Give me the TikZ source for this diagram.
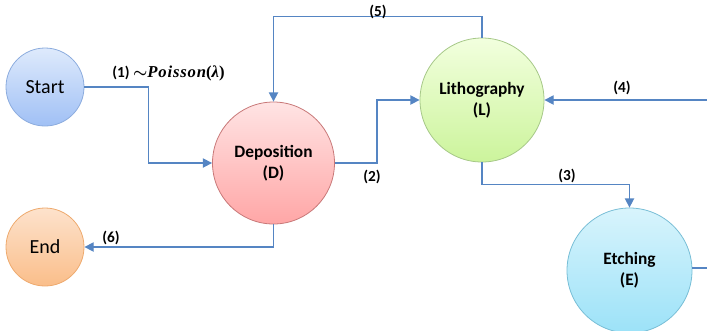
\documentclass[tikz,border=0pt]{standalone}
\usepackage{fontspec}
\setmainfont{Carlito}
\newfontfamily\serifb[LetterSpace=5]{Liberation Serif}
\usepackage{amsmath}
\usetikzlibrary{arrows.meta}
\definecolor{linec}{HTML}{5585C3}
\tikzset{
  state/.style={circle, inner sep=0pt, draw, line width=0.6pt, align=center, font=\bfseries\fontsize{13}{15.5}\selectfont},
  term/.style={state, font=\fontsize{15}{16}\selectfont},
  arr/.style={draw=linec, line width=1.1pt, -{Triangle[length=7pt,width=7pt]}},
  ln/.style={draw=linec, line width=1.1pt},
  lab/.style={font=\bfseries\fontsize{11.5}{13}\selectfont, inner sep=0pt}
}
\begin{document}
\begin{tikzpicture}[x=0.75pt, y=-0.75pt]
\useasboundingbox (0,0) rectangle (707,330);
\node[term, minimum size=58.5pt, top color={rgb,255:red,222;green,234;blue,252}, bottom color={rgb,255:red,160;green,192;blue,245}, draw={rgb,255:red,140;green,172;blue,222}] (S) at (45,87) {Start};
\node[term, minimum size=58.5pt, top color={rgb,255:red,253;green,226;blue,204}, bottom color={rgb,255:red,250;green,190;blue,138}, draw={rgb,255:red,238;green,170;blue,110}] (End) at (45,247) {End};
\node[state, minimum size=91.5pt, top color={rgb,255:red,255;green,228;blue,228}, bottom color={rgb,255:red,255;green,166;blue,166}, draw={rgb,255:red,200;green,120;blue,120}] (D) at (273.5,163) {Deposition\\(D)};
\node[state, minimum size=93pt, top color={rgb,255:red,242;green,255;blue,222}, bottom color={rgb,255:red,204;green,244;blue,156}, draw={rgb,255:red,166;green,200;blue,136}] (L) at (482,100) {Lithography\\(L)};
\node[state, minimum size=93.75pt, top color={rgb,255:red,216;green,244;blue,252}, bottom color={rgb,255:red,156;green,226;blue,248}, draw={rgb,255:red,120;green,190;blue,214}] (E) at (629.5,270.5) {Etching\\(E)};
\coordinate (R4) at (707,100);
\coordinate (RE) at (707,268);
% connectors
\draw[arr] (S.east) -- ++(64,0) |- (D.west);
\draw[arr] (L.north) -- ++(0,-21) -| (D.north);
\draw[arr] (D.east) -- ++(42,0) |- (L.west);
\draw[arr] (R4) -- (L.east);
\draw[arr] (L.south) -- ++(0,22) -| (E.north);
\draw[arr] (D.south) |- (End.east);
\draw[ln] (E.east |- RE) -- (RE);
% labels
\node[lab, anchor=west] (l1) at (112,73) {(1) {\boldmath$\mathord{\sim}$}{\serifb\bfseries\itshape\fontsize{12.5}{13}\selectfont Poisson\upshape(\itshape λ\upshape)}};
\node[lab] (l5) at (378,12) {(5)};
\node[lab] (l2) at (372,177) {(2)};
\node[lab] (l4) at (622,88) {(4)};
\node[lab] (l3) at (567,176) {(3)};
\node[lab] (l6) at (111,238) {(6)};
\end{tikzpicture}
\end{document}
